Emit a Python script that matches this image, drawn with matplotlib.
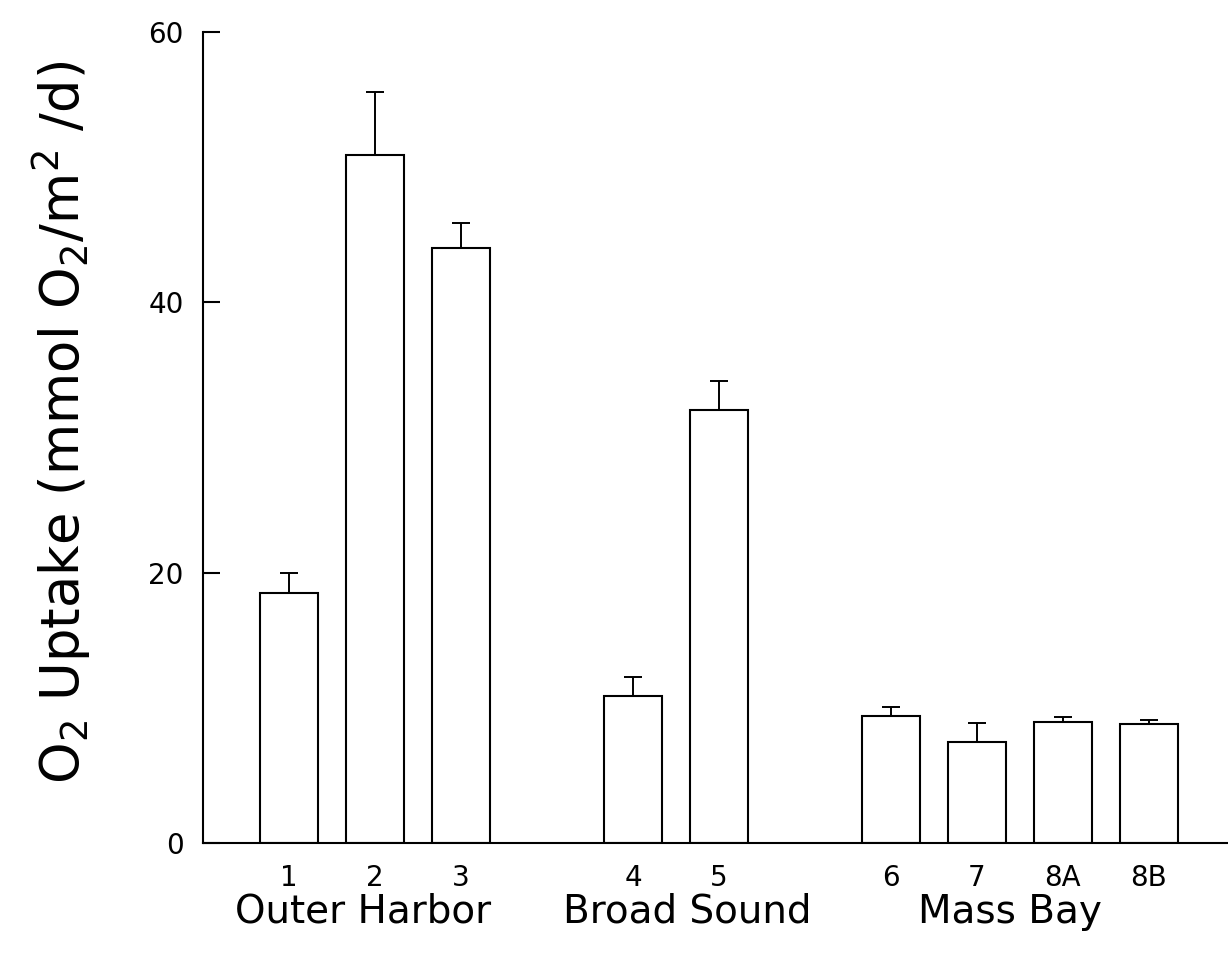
import numpy as np
import matplotlib
matplotlib.use("Agg")
import matplotlib.pyplot as plt
import matplotlib.transforms as mtransforms

# datos
estaciones = ["1", "2", "3", "4", "5", "6", "7", "8A", "8B"]
posiciones = [0, 1, 2, 4, 5, 7, 8, 9, 10]
consumo_o2 = [18.5, 50.9, 44.0, 10.9, 32.0, 9.4, 7.5, 8.95, 8.8]
error_sup = [1.5, 4.7, 1.9, 1.4, 2.2, 0.7, 1.4, 0.35, 0.3]
grupos = ["Outer Harbor", "Broad Sound", "Mass Bay"]
centro_grupos = [0.86, 4.63, 8.38]

plt.rcParams['font.family'] = 'DejaVu Sans'
plt.rcParams['mathtext.fontset'] = 'dejavusans'

fig = plt.figure(figsize=(12.28, 9.65), dpi=100)
ax = fig.add_axes([0.1653, 0.1264, 0.8347, 0.8404])

ax.bar(posiciones, consumo_o2, width=0.67, color='white',
       edgecolor='black', linewidth=1.5, zorder=2)
ax.errorbar(posiciones, consumo_o2,
            yerr=[np.zeros(len(error_sup)), error_sup],
            fmt='none', ecolor='black', elinewidth=1.4,
            capsize=6.5, capthick=1.4, zorder=1)

ax.set_xlim(-1.0, 10.92)
ax.set_ylim(0, 60)
ax.set_yticks([0, 20, 40, 60])
ax.set_xticks(posiciones)
ax.set_xticklabels(estaciones)

for lado in ['top', 'right']:
    ax.spines[lado].set_visible(False)
ax.spines['left'].set_linewidth(1.5)
ax.spines['bottom'].set_linewidth(1.5)

ax.tick_params(axis='y', direction='in', length=12, width=1.5,
               pad=14, labelsize=20, colors='black')
ax.tick_params(axis='x', length=0, pad=15, labelsize=20)

# nombres de los grupos debajo de las estaciones
trans = mtransforms.blended_transform_factory(ax.transData, fig.transFigure)
for nombre, cx in zip(grupos, centro_grupos):
    ax.text(cx, 0.055, nombre, transform=trans, ha='center', va='center',
            fontsize=28)

fig.text(0.050, 0.562, r'O$_2$ Uptake (mmol O$_2$/m$^2$ /d)',
         rotation=90, ha='center', va='center', fontsize=38)

plt.savefig("out.png", dpi=100)
